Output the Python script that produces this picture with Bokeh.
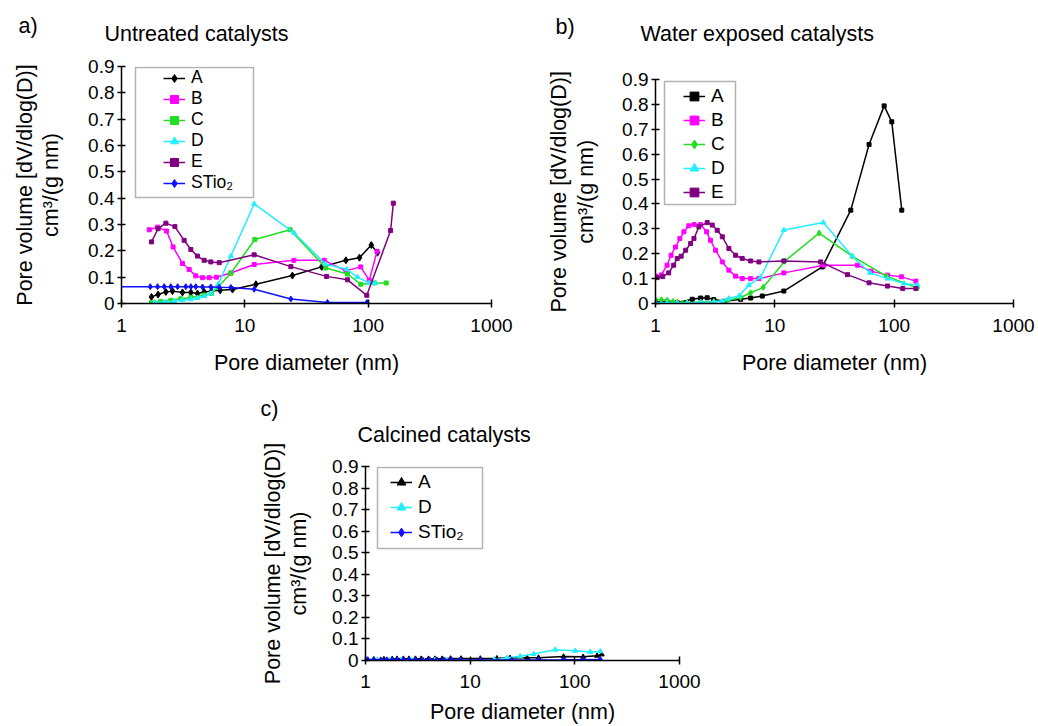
import math
from bokeh.plotting import figure
from bokeh.models import FixedTicker, Label, Legend, LegendItem, BoxAnnotation, Spacer
from bokeh.layouts import row, column
from bokeh.embed import file_html
from bokeh.resources import INLINE

# ---------------- data ----------------
x_ticks = [1, 10, 100, 1000]
x_tick_labels = ["1", "10", "100", "1000"]
y_ticks = [0, 0.1, 0.2, 0.3, 0.4, 0.5, 0.6, 0.7, 0.8, 0.9]
y_tick_labels = ["0", "0.1", "0.2", "0.3", "0.4", "0.5", "0.6", "0.7", "0.8", "0.9"]

# a) Untreated catalysts
untreated_A_d = [1.75, 1.98, 2.29, 2.59, 3.12, 3.65, 4.13, 4.68, 5.37, 6.31, 7.95, 12.3, 24.3, 42, 66, 85, 106, 119]
untreated_A_v = [0.025, 0.034, 0.044, 0.047, 0.042, 0.042, 0.038, 0.044, 0.047, 0.05, 0.053, 0.073, 0.106, 0.139, 0.164, 0.174, 0.222, 0.193]
untreated_B_d = [1.68, 1.96, 2.32, 2.62, 3.12, 3.54, 4.0, 4.54, 5.14, 5.89, 7.7, 11.9, 25, 44, 66, 87, 102, 118]
untreated_B_v = [0.28, 0.29, 0.275, 0.215, 0.152, 0.129, 0.105, 0.098, 0.098, 0.10, 0.116, 0.148, 0.164, 0.164, 0.124, 0.139, 0.088, 0.198]
untreated_C_d = [1.75, 2.08, 2.51, 3.03, 3.65, 4.68, 5.37, 6.08, 7.7, 12.05, 23.3, 45.4, 68, 87, 112, 140]
untreated_C_v = [0.003, 0.008, 0.012, 0.018, 0.023, 0.032, 0.038, 0.063, 0.115, 0.243, 0.28, 0.135, 0.112, 0.073, 0.078, 0.078]
untreated_D_d = [1.86, 2.26, 2.67, 3.12, 3.65, 4.13, 4.68, 5.3, 6.08, 7.7, 11.9, 25.1, 45, 67, 82, 102, 115]
untreated_D_v = [0.004, 0.006, 0.009, 0.013, 0.016, 0.021, 0.028, 0.038, 0.073, 0.18, 0.378, 0.268, 0.15, 0.13, 0.1, 0.078, 0.078]
untreated_E_d = [1.75, 1.98, 2.29, 2.71, 3.22, 3.65, 4.13, 4.68, 5.3, 6.2, 11.9, 23.6, 46, 68, 97.5, 152, 160]
untreated_E_v = [0.234, 0.284, 0.305, 0.292, 0.24, 0.205, 0.18, 0.164, 0.158, 0.155, 0.185, 0.14, 0.103, 0.09, 0.031, 0.277, 0.381]
untreated_S_d = [0.8, 1.71, 1.96, 2.22, 2.51, 2.85, 3.32, 3.65, 4.0, 4.54, 5.3, 6.19, 7.7, 11.9, 23.6, 46.8, 97.7]
untreated_S_v = [0.064, 0.064, 0.064, 0.064, 0.064, 0.064, 0.064, 0.064, 0.064, 0.063, 0.063, 0.062, 0.061, 0.054, 0.017, 0.004, 0.004]

# b) Water exposed catalysts
water_A_d = [1.0, 1.25, 1.52, 2.03, 2.39, 2.71, 3.08, 3.87, 5.17, 6.27, 7.85, 11.9, 25, 43.3, 61.6, 82.4, 95.5, 115.8]
water_A_v = [0.007, 0.007, 0.003, 0.017, 0.022, 0.023, 0.016, 0.009, 0.017, 0.022, 0.03, 0.05, 0.147, 0.375, 0.639, 0.794, 0.73, 0.375]
water_B_d = [1.0, 1.12, 1.25, 1.35, 1.47, 1.6, 1.73, 1.9, 2.1, 2.39, 2.68, 2.89, 3.19, 3.63, 4.12, 4.69, 5.33, 6.27, 7.36, 11.9, 25.8, 49.2, 64, 87.9, 115, 152]
water_B_v = [0.11, 0.115, 0.154, 0.194, 0.227, 0.261, 0.288, 0.312, 0.317, 0.317, 0.288, 0.254, 0.214, 0.167, 0.134, 0.11, 0.10, 0.10, 0.10, 0.123, 0.154, 0.154, 0.13, 0.114, 0.107, 0.09]
water_C_d = [1.0, 1.12, 1.25, 1.4, 1.52, 1.67, 1.84, 2.39, 3.08, 3.99, 5.17, 6.27, 8.0, 12.1, 23.5, 44.5, 86, 157]
water_C_v = [0.016, 0.015, 0.013, 0.008, 0.004, 0.002, 0.003, 0.006, 0.008, 0.012, 0.024, 0.043, 0.065, 0.17, 0.283, 0.19, 0.11, 0.062]
water_D_d = [1.0, 1.25, 1.52, 1.84, 2.39, 3.08, 3.63, 4.12, 5.0, 6.06, 7.6, 11.9, 25.5, 44.5, 62.8, 88, 121, 157]
water_D_v = [0.004, 0.003, 0.002, 0.002, 0.004, 0.006, 0.01, 0.02, 0.03, 0.074, 0.105, 0.295, 0.325, 0.19, 0.123, 0.1, 0.08, 0.074]
water_E_d = [1.03, 1.15, 1.29, 1.42, 1.52, 1.64, 1.79, 1.97, 2.1, 2.31, 2.71, 2.99, 3.29, 3.63, 4.12, 4.69, 5.33, 6.27, 7.36, 11.9, 24.2, 40.6, 61.6, 87.9, 118, 152]
water_E_v = [0.104, 0.108, 0.123, 0.154, 0.181, 0.19, 0.214, 0.241, 0.261, 0.308, 0.325, 0.315, 0.294, 0.268, 0.221, 0.194, 0.181, 0.171, 0.167, 0.171, 0.167, 0.116, 0.083, 0.07, 0.06, 0.06]

# c) Calcined catalysts
calcined_A_d = [1.0, 1.2, 1.5, 1.8, 2.0, 2.3, 2.6, 3.0, 3.4, 4.0, 4.6, 5.4, 6.5, 8.2, 12.5, 18, 24, 35, 45, 78, 120, 163, 181]
calcined_A_v = [0.004, 0.005, 0.006, 0.007, 0.008, 0.008, 0.008, 0.008, 0.008, 0.008, 0.008, 0.008, 0.009, 0.009, 0.009, 0.01, 0.012, 0.013, 0.013, 0.018, 0.017, 0.022, 0.028]
calcined_D_d = [1.0, 1.3, 1.7, 2.2, 2.8, 3.6, 4.6, 6.0, 8.0, 12.5, 17, 22.5, 30, 40.4, 65, 101, 140, 175]
calcined_D_v = [0.006, 0.004, 0.003, 0.003, 0.002, 0.002, 0.002, 0.002, 0.002, 0.002, 0.004, 0.012, 0.02, 0.03, 0.05, 0.045, 0.04, 0.042]
calcined_S_d = [1.05, 1.2, 1.4, 1.6, 1.8, 2.0, 2.3, 2.6, 3.0, 3.5, 4.1, 4.8, 5.6, 6.6, 8.0, 12.5, 25, 45, 78, 120, 175]
calcined_S_v = [0.004, 0.003, 0.003, 0.003, 0.003, 0.003, 0.003, 0.003, 0.003, 0.003, 0.003, 0.003, 0.003, 0.003, 0.002, 0.002, 0.002, 0.002, 0.003, 0.004, 0.005]

# ---------------- style ----------------
FONT = "Liberation Sans"
TICK_SIZE = "19px"
LABEL_SIZE = "21.5px"
COL = {"A": "#000000", "B": "#ff00ff", "C": "#22dd22", "D": "#22eeff", "E": "#800080", "S": "#1010ff"}
YLAB1 = "Pore volume [dV/dlog(D)]"
YLAB2 = "cm\u00b3/(g nm)"
XLAB = "Pore diameter (nm)"


def make_panel(width, height, left, right, top, bottom, tick_standoff, xlab_standoff):
    p = figure(width=width, height=height, x_axis_type="log", x_range=(1, 1000), y_range=(0, 0.9),
               output_backend="svg", toolbar_location=None, frame_align=False,
               min_border_left=left, min_border_right=right, min_border_top=top, min_border_bottom=bottom)
    p.outline_line_color = None
    p.grid.visible = False
    p.background_fill_color = "white"
    p.border_fill_color = "white"
    xa = p.xaxis[0]
    xa.ticker = FixedTicker(ticks=x_ticks, minor_ticks=[])
    xa.major_label_overrides = dict(zip(x_ticks, x_tick_labels))
    ya = p.yaxis[0]
    ya.ticker = FixedTicker(ticks=y_ticks, minor_ticks=[])
    ya.major_label_overrides = dict(zip(y_ticks, y_tick_labels))
    for ax in (xa, ya):
        ax.major_tick_in = 4
        ax.major_tick_out = 4
        ax.minor_tick_in = 0
        ax.minor_tick_out = 0
        ax.axis_line_width = 1.5
        ax.axis_line_color = "black"
        ax.major_tick_line_width = 1.5
        ax.major_tick_line_color = "black"
        ax.major_label_text_font = FONT
        ax.major_label_text_font_size = TICK_SIZE
        ax.major_label_text_color = "black"
        ax.axis_label_text_font = FONT
        ax.axis_label_text_font_size = LABEL_SIZE
        ax.axis_label_text_font_style = "normal"
        ax.axis_label_text_color = "black"
    xa.major_label_standoff = tick_standoff
    xa.axis_label = XLAB
    xa.axis_label_standoff = xlab_standoff
    ya.major_label_standoff = 3
    return p


def text_canvas(width, height, texts):
    h = figure(width=width, height=height, x_range=(0, 1), y_range=(0, 1), output_backend="svg",
               toolbar_location=None, x_axis_location=None, y_axis_location=None, frame_align=False,
               min_border_left=0, min_border_right=0, min_border_top=0, min_border_bottom=0)
    h.outline_line_color = None
    h.grid.visible = False
    for text, x, y, angle in texts:
        h.add_layout(Label(x=x, y=y, x_units="screen", y_units="screen", text=text,
                           text_font=FONT, text_font_size=LABEL_SIZE,
                           text_align="left" if angle == 0 else "center",
                           text_baseline="middle", angle=angle, text_color="black"))
    return h


def add_series(p, d, v, color, marker, size):
    r1 = p.line(d, v, line_color=color, line_width=1.5)
    r2 = p.scatter(d, v, marker=marker, size=size, fill_color=color, line_color=color)
    return [r1, r2]


def add_legend(p, items, vx, vy, spacing, row_h, font_size, box):
    leg = Legend(items=[LegendItem(label=n, renderers=r) for n, r in items], location=(vx, vy),
                 padding=0, spacing=spacing, margin=0, glyph_width=22, glyph_height=row_h, label_height=row_h,
                 label_standoff=6, label_text_font=FONT, label_text_font_size=font_size,
                 label_text_color="black", border_line_color=None, background_fill_alpha=0)
    p.add_layout(leg)
    l, r, t, b = box
    p.add_layout(BoxAnnotation(left=l, right=r, top=t, bottom=b, left_units="screen", right_units="screen",
                               top_units="screen", bottom_units="screen", fill_alpha=0,
                               line_color="black", line_width=1.5))


V = math.pi / 2

# ---------------- panel a ----------------
ya_txt = text_canvas(70, 380, [("a)", 18, 355, 0), (YLAB1, 24, 195.5, V), (YLAB2, 50, 195.5, V)])
ha = text_canvas(450, 50, [("Untreated catalysts", 34, 17, 0)])
pa = make_panel(450, 330, 51, 29, 16, 77, 11, 16)
ra = [("A", add_series(pa, untreated_A_d, untreated_A_v, COL["A"], "diamond", 7)),
      ("B", add_series(pa, untreated_B_d, untreated_B_v, COL["B"], "square", 4)),
      ("C", add_series(pa, untreated_C_d, untreated_C_v, COL["C"], "square", 4)),
      ("D", add_series(pa, untreated_D_d, untreated_D_v, COL["D"], "triangle", 5)),
      ("E", add_series(pa, untreated_E_d, untreated_E_v, COL["E"], "square", 4)),
      ("STio\u2082", add_series(pa, untreated_S_d, untreated_S_v, COL["S"], "diamond", 6))]
add_legend(pa, ra, 42, 110, 0, 20, "17.5px", (14, 132, 236, 106))

# ---------------- panel b ----------------
yb_txt = text_canvas(80, 380, [("b)", 35, 354, 0), (YLAB1, 38, 188.7, V), (YLAB2, 65, 188.7, V)])
hb = text_canvas(438, 50, [("Water exposed catalysts", 40, 17, 0)])
pb = make_panel(438, 330, 55, 25, 29, 77, 11, 16)
rb = [("A", add_series(pb, water_A_d, water_A_v, COL["A"], "square", 4)),
      ("B", add_series(pb, water_B_d, water_B_v, COL["B"], "square", 4)),
      ("C", add_series(pb, water_C_d, water_C_v, COL["C"], "diamond", 6)),
      ("D", add_series(pb, water_D_d, water_D_v, COL["D"], "triangle", 5)),
      ("E", add_series(pb, water_E_d, water_E_v, COL["E"], "square", 4))]
add_legend(pb, rb, 28, 100, 2, 22, "19px", (9, 80, 222, 99))

# ---------------- panel c ----------------
yc_txt = text_canvas(75, 346, [("c)", 10, 318, 0), (YLAB1, 22, 163, V), (YLAB2, 48, 163, V)])
hc = text_canvas(385, 70, [("Calcined catalysts", 32, 16, 0)])
pc = make_panel(385, 276, 40, 31, 16, 66, 10, 9)
rc = [("A", add_series(pc, calcined_A_d, calcined_A_v, COL["A"], "triangle", 5)),
      ("D", add_series(pc, calcined_D_d, calcined_D_v, COL["D"], "triangle", 5)),
      ("STio\u2082", add_series(pc, calcined_S_d, calcined_S_v, COL["S"], "diamond", 6))]
add_legend(pc, rc, 25, 117, 3, 22, "19px", (12, 117, 193, 112))

layout = column(row(ya_txt, column(ha, pa), yb_txt, column(hb, pb)),
                row(Spacer(width=250, height=346), yc_txt, column(hc, pc)))

open("out.html", "w").write(file_html(layout, INLINE))
